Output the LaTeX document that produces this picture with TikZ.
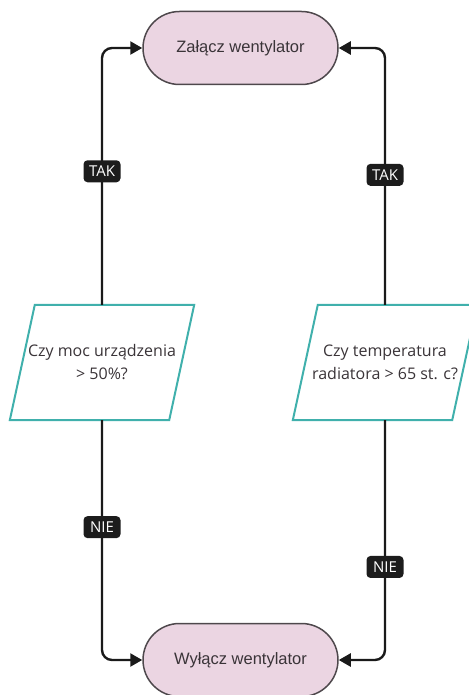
\documentclass[tikz,border=0pt]{standalone}
\usepackage{fontspec}
\setmainfont{Liberation Sans}
\newfontfamily\qfont{Open Sans}
\usepackage{tikz}
\usetikzlibrary{arrows.meta, positioning}
\definecolor{pillfill}{HTML}{EBD5E2}
\definecolor{pilltext}{HTML}{3A3438}
\definecolor{qteal}{HTML}{40B0AC}
\definecolor{linecol}{HTML}{1A1A1A}
\definecolor{tagfill}{HTML}{1C1C1C}

\begin{document}
\begin{tikzpicture}[
  x=1pt, y=1pt,
  pill/.style={draw=pilltext!90, line width=1.5pt, fill=pillfill, rounded corners=36.5pt,
               minimum width=195pt, minimum height=73pt, text=pilltext,
               font=\fontsize{16.5}{19}\selectfont},
  qbox/.style={minimum width=184pt, minimum height=115pt, align=center, inner sep=0pt,
               text=pilltext, font=\qfont\fontsize{16}{23}\selectfont},
  qline/.style={draw=qteal, line width=2pt, line join=miter},
  arr/.style={-{Triangle[length=12pt, width=13pt]}, line width=2.4pt, color=linecol,
              rounded corners=10pt},
  tag/.style={fill=tagfill, text=white, rounded corners=4pt, minimum height=22pt,
              minimum width=37pt, inner xsep=3pt, inner ysep=0pt,
              font=\qfont\fontsize{15}{15}\selectfont},
]
\useasboundingbox (0,0) rectangle (468,-695);

% Terminals
\node[pill] (On) at (240.5,-48) {Załącz wentylator};
\node[pill] (Off) at (240.5,-660) {Wyłącz wentylator};

% Decisions
\node[qbox] (Lq) at (102,-362.5) {Czy moc urządzenia\\> 50\%?};
\node[qbox] (Rq) at (385,-362.5) {Czy temperatura\\radiatora > 65 st. c?};
\foreach \q in {Lq,Rq} {
  \draw[qline] ([xshift=25pt]\q.north west) -- (\q.north east)
    -- ([xshift=-25pt]\q.south east) -- (\q.south west) -- cycle;
}

% Arrows
\draw[arr] (Lq.north) |- node[tag, pos=0.26] (takL) {TAK} (On.west);
\draw[arr] (Rq.north) |- node[tag, pos=0.253] (takR) {TAK} (On.east);
\draw[arr] (Lq.south) |- node[tag, pos=0.223] (nieL) {NIE} (Off.west);
\draw[arr] (Rq.south) |- node[tag, pos=0.306] (nieR) {NIE} (Off.east);

\end{tikzpicture}
\end{document}
